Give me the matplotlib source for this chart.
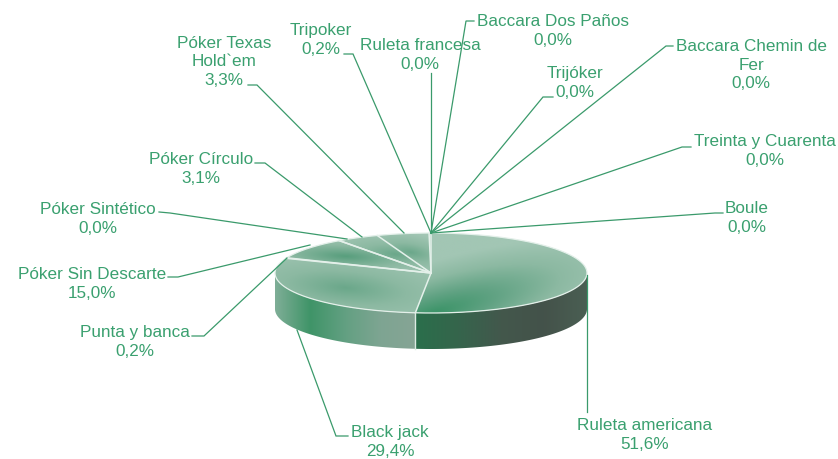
import numpy as np
import matplotlib
matplotlib.use("Agg")
import matplotlib.pyplot as plt
from matplotlib.patches import Polygon
from matplotlib.colors import LinearSegmentedColormap

# Printed labels, clockwise from the top of the pie
names = ["Ruleta americana", "Black jack", "Punta y banca", "Póker Sin Descarte",
         "Póker Sintético", "Póker Círculo", "Póker Texas\nHold`em", "Tripoker",
         "Ruleta francesa", "Baccara Dos Paños", "Trijóker", "Baccara Chemin de\nFer",
         "Treinta y Cuarenta", "Boule"]
printed = ["51,6%", "29,4%", "0,2%", "15,0%", "0,0%", "3,1%", "3,3%", "0,2%",
           "0,0%", "0,0%", "0,0%", "0,0%", "0,0%", "0,0%"]
drawn_share = [51.6, 29.4, 0.2, 8.8, 0.0, 4.4, 5.4, 0.2, 0.0, 0.0, 0.0, 0.0, 0.0, 0.0]

W, H = 838, 459
CX, CY, RX, RY, DEPTH = 431, 273, 156, 40, 36
TEXT = "#3aa06f"
LINE = "#3a9a6b"
plt.rcParams["font.family"] = ["Liberation Sans", "DejaVu Sans"]

fig = plt.figure(figsize=(W / 100, H / 100), dpi=100)
ax = fig.add_axes([0, 0, 1, 1])
ax.set_xlim(0, W)
ax.set_ylim(H, 0)
ax.axis("off")


def rim(theta):
    return CX + RX * np.sin(theta), CY - RY * np.cos(theta)


edges = np.concatenate([[0], np.cumsum(drawn_share)]) / sum(drawn_share) * 2 * np.pi

# Side walls with horizontal gradients
side_right = LinearSegmentedColormap.from_list("r", ["#2a6f4b", "#35654c", "#43584c", "#44524a", "#4a5f53"])
side_left = LinearSegmentedColormap.from_list("l", ["#7fae97", "#3f9468", "#63a082", "#7ea592", "#86a495"])


def side_piece(t0, t1, cmap):
    t = np.linspace(t0, t1, 200)
    x, y = rim(t)
    pts = np.r_[np.c_[x, y], np.c_[x[::-1], y[::-1] + DEPTH]]
    patch = Polygon(pts, closed=True, fc="none", ec="none", transform=ax.transData)
    ax.add_patch(patch)
    x0, x1 = x.min(), x.max()
    im = ax.imshow(np.linspace(0, 1, 256)[None, :], cmap=cmap, aspect="auto",
                   extent=[x0, x1, CY + RY + DEPTH + 2, CY - 2], zorder=1)
    im.set_clip_path(patch)


side_piece(np.pi / 2, edges[1], side_right)
side_piece(edges[1], 3 * np.pi / 2, side_left)

# Top surface: one shaded image clipped to each visible slice
top_cmap = LinearSegmentedColormap.from_list("t", ["#3a9367", "#62a384", "#8cb9a2", "#a2c6b4"])
gx, gy = np.meshgrid(np.linspace(CX - RX, CX + RX, 320), np.linspace(CY - RY, CY + RY, 90))


def top_piece(t0, t1, fx, fy, sx, sy, tilt, floor):
    t = np.linspace(t0, t1, 200)
    x, y = rim(t)
    pts = np.r_[[[CX, CY]], np.c_[x, y]]
    patch = Polygon(pts, closed=True, fc="none", ec="none", transform=ax.transData)
    ax.add_patch(patch)
    dx = gx - fx
    dy = gy - fy
    u = dx + tilt * dy
    field = np.clip(np.sqrt((u / sx) ** 2 + (dy / sy) ** 2), 0, 1)
    field = floor + (1 - floor) * field
    im = ax.imshow(field, cmap=top_cmap, vmin=0, vmax=1, aspect="auto",
                   extent=[CX - RX, CX + RX, CY + RY, CY - RY], zorder=2)
    im.set_clip_path(patch)


groups = [(edges[0], edges[1], 432, 314, 135, 75, 1.8, 0.0),
          (edges[1], edges[3], 345, 288, 130, 40, -1.0, 0.4),
          (edges[3], edges[4], 345, 256, 100, 20, -1.5, 0.25),
          (edges[5], edges[6], 395, 254, 70, 22, -1.0, 0.4),
          (edges[6], edges[7], 410, 252, 50, 22, -1.0, 0.4),
          (edges[7], edges[8], 410, 252, 50, 22, -1.0, 0.4)]
for g in groups:
    top_piece(*g)

# White slice borders and rim highlights
for t0 in edges[:8]:
    x, y = rim(t0)
    ax.plot([CX, x], [CY, y], color="#e4f0ea", lw=1.1, zorder=3)
tt = np.linspace(0, 2 * np.pi, 400)
ax.plot(*rim(tt), color="#e4f0ea", lw=0.9, zorder=3)
x1, y1 = rim(edges[1])
ax.plot([x1, x1], [y1, y1 + DEPTH], color="#dcebe3", lw=1.0, zorder=3)

# Leader lines (label elbow, then point on the pie)
leaders = {
    "Ruleta americana": [(587, 412), (587, 275)],
    "Black jack": [(348, 436), (336, 436), (297, 330)],
    "Punta y banca": [(192, 336), (204, 336), (287, 258)],
    "Póker Sin Descarte": [(168, 277), (178, 277), (310, 245)],
    "Póker Sintético": [(159, 212), (170, 213), (347, 239)],
    "Póker Círculo": [(255, 163), (265, 163), (362, 237)],
    "Póker Texas\nHold`em": [(248, 85), (257, 85), (404, 233)],
    "Tripoker": [(344, 54), (353, 54), (431, 233)],
    "Ruleta francesa": [(431, 73), (431, 233)],
    "Baccara Dos Paños": [(474, 21), (466, 21), (431, 233)],
    "Trijóker": [(553, 97), (543, 97), (431, 233)],
    "Baccara Chemin de\nFer": [(673, 46), (666, 46), (431, 233)],
    "Treinta y Cuarenta": [(691, 147), (682, 147), (431, 233)],
    "Boule": [(723, 213), (715, 213), (431, 233)],
}
for pts in leaders.values():
    xs, ys = zip(*pts)
    ax.plot(xs, ys, color=LINE, lw=0.9, zorder=4, solid_joinstyle="miter")

# Label block centres
label_pos = {
    "Ruleta americana": (645, 435), "Black jack": (390, 442), "Punta y banca": (135, 342),
    "Póker Sin Descarte": (92, 284), "Póker Sintético": (98, 219), "Póker Círculo": (201, 169),
    "Póker Texas\nHold`em": (224, 62), "Tripoker": (321, 40), "Ruleta francesa": (420, 55),
    "Baccara Dos Paños": (553, 31), "Trijóker": (575, 83),
    "Baccara Chemin de\nFer": (751, 65), "Treinta y Cuarenta": (765, 151), "Boule": (747, 218),
}
for name, pct in zip(names, printed):
    x, y = label_pos[name]
    ax.text(x, y, f"{name}\n{pct}", color=TEXT, fontsize=12.3, ha="center", va="center",
            linespacing=1.3, zorder=5)

fig.savefig("out.png", dpi=100)
